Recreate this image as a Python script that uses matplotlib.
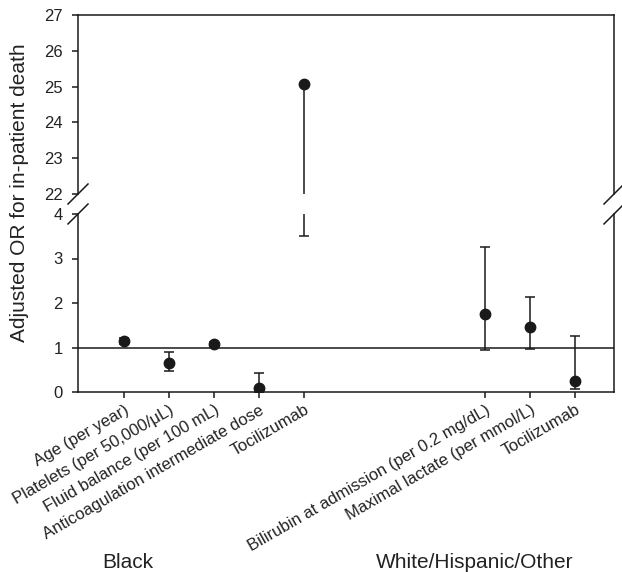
import numpy as np
import matplotlib
matplotlib.use("Agg")
import matplotlib.pyplot as plt

plt.rcParams['font.family'] = ['Liberation Sans', 'DejaVu Sans']

# ---- data ----
black_labels = ["Age (per year)", "Platelets (per 50,000/\u03bcL)", "Fluid balance (per 100 mL)",
                "Anticoagulation intermediate dose", "Tocilizumab"]
black_or = [1.15, 0.66, 1.08, 0.09, 25.08]
black_lo = [1.08, 0.48, 1.04, 0.01, 3.5]
black_hi = [1.22, 0.91, 1.12, 0.43, np.nan]   # upper CI not shown for Tocilizumab

white_labels = ["Bilirubin at admission (per 0.2 mg/dL)", "Maximal lactate (per mmol/L)", "Tocilizumab"]
white_or = [1.76, 1.45, 0.25]
white_lo = [0.95, 0.97, 0.06]
white_hi = [3.26, 2.14, 1.25]

group_names = ["Black", "White/Hispanic/Other"]
top_ticks = [22, 23, 24, 25, 26, 27]
bot_ticks = [0, 1, 2, 3, 4]

# ---- build ----
gap = 3
x_black = np.arange(1, len(black_labels) + 1)
x_white = np.arange(len(black_labels) + gap + 1, len(black_labels) + gap + 1 + len(white_labels))
xs = np.concatenate([x_black, x_white])
ors = np.array(black_or + white_or)
los = np.array(black_lo + white_lo)
his = np.array(black_hi + white_hi)
his = np.where(np.isnan(his), ors, his)
labels = black_labels + white_labels

W, H = 622, 572
fig = plt.figure(figsize=(W / 100, H / 100), dpi=100)
L, R = 78, 614
ax_top = fig.add_axes([L / W, 1 - 194 / H, (R - L) / W, 179 / H])
ax_bot = fig.add_axes([L / W, 1 - 392 / H, (R - L) / W, 178 / H])

col = '#1a1a1a'
tcol = '#222222'
for ax in (ax_top, ax_bot):
    ax.errorbar(xs, ors, yerr=[ors - los, his - ors], fmt='o', color=col, ms=7.5,
                ecolor=col, elinewidth=1.1, capsize=3.5, capthick=1.1, zorder=3)
    ax.set_xlim(-0.02, 11.86)
    for s in ax.spines.values():
        s.set_color(col)
        s.set_linewidth(1.1)
    ax.tick_params(axis='both', direction='out', length=4, width=1.1, color=col,
                   labelsize=12, labelcolor=tcol, right=False, top=False)
    ax.tick_params(axis='y', pad=7)

ax_top.set_ylim(22, 27)
ax_top.set_yticks(top_ticks)
ax_top.spines['bottom'].set_visible(False)
ax_top.tick_params(axis='x', bottom=False, labelbottom=False)

ax_bot.set_ylim(0, 4)
ax_bot.set_yticks(bot_ticks)
ax_bot.spines['top'].set_visible(False)
ax_bot.axhline(1, color=col, lw=1.1, zorder=2)
ax_bot.set_xticks(xs)
ax_bot.set_xticklabels(labels, rotation=30, ha='right', rotation_mode='anchor')

# break marks
dx, dy = 10 / (R - L), 10 / 179
kw = dict(color=col, lw=1.1, clip_on=False)
for xx in (0, 1):
    ax_top.plot([xx - dx, xx + dx], [-dy, dy], transform=ax_top.transAxes, **kw)
    ax_bot.plot([xx - dx, xx + dx], [1 - dy, 1 + dy], transform=ax_bot.transAxes, **kw)

fig.text(20 / W, 1 - 193 / H, "Adjusted OR for in-patient death", rotation=90,
         ha='center', va='center', fontsize=15, color=tcol)
fig.text(128 / W, 1 - 568 / H, group_names[0], ha='center', va='baseline', fontsize=15, color=tcol)
fig.text(475 / W, 1 - 568 / H, group_names[1], ha='center', va='baseline', fontsize=15, color=tcol)

fig.savefig("out.png", dpi=100)
